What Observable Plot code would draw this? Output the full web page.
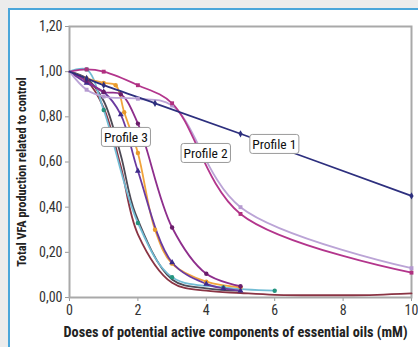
<!DOCTYPE html>
<html>
<head>
<meta charset="utf-8">
<script src="https://cdn.jsdelivr.net/npm/d3@7"></script>
<script src="https://cdn.jsdelivr.net/npm/@observablehq/plot@0.6"></script>
<style>
  html, body { margin: 0; padding: 0; width: 418px; height: 347px; overflow: hidden; background: #ececec; }
  #panel { position: absolute; left: 8px; top: 8px; width: 500px; height: 500px; background: #fff;
           border-left: 2px solid #4aa6da; border-top: 2px solid #4aa6da; }
  #chart { position: absolute; left: 0; top: 0; }
  #chart svg g[aria-label$="tick"] path { stroke: #999; }
</style>
</head>
<body>
<div id="panel"></div>
<div id="chart"></div>
<script>
// ---- data (dose in mM, VFA production relative to control) ----
const profile1Dose = [0, 0.5, 1, 2.5, 5, 10];
const profile1Vfa  = [1.00, 0.97, 0.94, 0.86, 0.725, 0.45];

const magentaDose = [0, 0.5, 1, 2, 3, 5, 10];
const magentaVfa  = [1.00, 1.01, 1.00, 0.94, 0.86, 0.37, 0.11];

const lavenderDose = [0, 0.5, 1, 2, 3, 5, 10];
const lavenderVfa  = [1.00, 0.92, 0.89, 0.88, 0.85, 0.40, 0.13];

const violetDose = [0, 0.5, 1, 1.5, 2, 3, 4, 4.5, 5];
const violetVfa  = [1.00, 0.95, 0.91, 0.81, 0.56, 0.155, 0.06, 0.04, 0.03];

const purpleDose = [0, 0.5, 1, 1.5, 2, 3, 4, 5];
const purpleVfa  = [1.00, 0.96, 0.91, 0.90, 0.77, 0.31, 0.105, 0.05];

const orangeDose = [0, 0.5, 1, 1.35, 1.6, 2, 2.5, 3, 4, 5];
const orangeVfa  = [1.00, 0.97, 0.95, 0.94, 0.82, 0.64, 0.30, 0.15, 0.07, 0.045];

const tealDose = [0, 0.5, 1, 2, 3, 4.5, 6];
const tealVfa  = [1.00, 1.01, 0.83, 0.33, 0.09, 0.045, 0.03];

const grayDose = [0, 0.5, 1, 1.5, 1.93, 3, 4, 5];
const grayVfa  = [1.00, 0.97, 0.87, 0.63, 0.37, 0.08, 0.04, 0.03];

const redDose = [0, 0.5, 1, 1.5, 2, 3, 4, 5, 6, 8, 9, 10];
const redVfa  = [1.00, 0.96, 0.84, 0.58, 0.28, 0.065, 0.03, 0.02, 0.012, 0.01, 0.012, 0.018];

const xTicks = [0, 2, 4, 6, 8, 10];
const yTicks = [0, 0.2, 0.4, 0.6, 0.8, 1.0, 1.2];

const labelText = ["Profile 1", "Profile 2", "Profile 3"];
const labelDose = [5.99, 3.98, 1.65];
const labelVfa  = [0.677, 0.637, 0.708];

// ---- build tables ----
const seriesDefs = [
  {name: "red",      dose: redDose,      vfa: redVfa,      color: "#8a3444", symbol: null},
  {name: "gray",     dose: grayDose,     vfa: grayVfa,     color: "#4c4a55", symbol: null},
  {name: "teal",     dose: tealDose,     vfa: tealVfa,     color: "#72bcd4", symbol: "circle", mark: "#25957f"},
  {name: "orange",   dose: orangeDose,   vfa: orangeVfa,   color: "#f1a43c", symbol: "circle", mark: "#e89a2c"},
  {name: "violet",   dose: violetDose,   vfa: violetVfa,   color: "#6a3aa0", symbol: "triangle", mark: "#3c2a8a"},
  {name: "purple",   dose: purpleDose,   vfa: purpleVfa,   color: "#8e2e8c", symbol: "circle", mark: "#6a1e6a"},
  {name: "lavender", dose: lavenderDose, vfa: lavenderVfa, color: "#bba4d6", symbol: "square", mark: "#b59ad0"},
  {name: "magenta",  dose: magentaDose,  vfa: magentaVfa,  color: "#b3358c", symbol: "square", mark: "#b0307f"},
  {name: "profile1", dose: profile1Dose, vfa: profile1Vfa, color: "#2d2f7e", symbol: "diamond", mark: "#2d2f7e"}
];
const rows = seriesDefs.flatMap(s => s.dose.map((d, i) => ({series: s.name, dose: d, vfa: s.vfa[i]})));
const labels = labelText.map((t, i) => ({text: t, dose: labelDose[i], vfa: labelVfa[i]}));

const font = "'Liberation Sans Narrow', 'Roboto Condensed', 'DejaVu Sans Condensed', 'Liberation Sans', Arial, sans-serif";
const fmt = d => d.toFixed(2).replace(".", ",");

const marks = [];
for (const s of seriesDefs) {
  const data = rows.filter(r => r.series === s.name);
  marks.push(Plot.line(data, {x: "dose", y: "vfa", stroke: s.color, strokeWidth: 1.8, curve: "catmull-rom"}));
}
for (const s of seriesDefs) {
  if (!s.symbol) continue;
  const data = rows.filter(r => r.series === s.name && r.dose > 0);
  marks.push(Plot.dot(data, {x: "dose", y: "vfa", symbol: () => s.symbol, fill: s.mark, r: 2.2}));
}

const chart = Plot.plot({
  width: 418,
  height: 347,
  marginLeft: 69,
  marginRight: 7,
  marginTop: 26,
  marginBottom: 50,
  style: {background: "transparent", fontFamily: font, fontSize: "14px", color: "#333"},
  symbol: {type: "identity"},
  x: {domain: [0, 10], ticks: xTicks, tickSize: 4, tickPadding: 4, label: null, line: false},
  y: {domain: [0, 1.2], ticks: yTicks, tickSize: 4, tickPadding: 3, tickFormat: fmt, label: null, line: false},
  marks: [
    Plot.frame({stroke: "#a9a9a9", strokeWidth: 2}),
    ...marks,
    Plot.text(labels, {x: "dose", y: "vfa", text: "text", fill: "#111", fontSize: 13.5, className: "proflabel"}),
    Plot.text([0], {frameAnchor: "bottom", text: () => "Doses of potential active components of essential oils (mM)",
      dy: 39, dx: -5, fontWeight: "bold", fontSize: 14.3, fill: "#222"}),
    Plot.text([0], {frameAnchor: "left", textAnchor: "middle", text: () => "Total VFA production related to control",
      rotate: -90, dx: -47, dy: 10, fontWeight: "bold", fontSize: 12.3, fill: "#222"})
  ]
});
document.getElementById("chart").appendChild(chart);

// boxes behind profile labels
d3.select(chart).selectAll("g.proflabel text").each(function() {
  const b = this.getBBox();
  d3.select(this.parentNode).insert("rect", () => this)
    .attr("x", b.x - 2.5).attr("y", b.y - 1.5)
    .attr("width", b.width + 5).attr("height", b.height + 3)
    .attr("rx", 2.5).attr("fill", "#fff").attr("stroke", "#9a9a9a").attr("stroke-width", 1)
    .attr("transform", this.getAttribute("transform"));
});
</script>
</body>
</html>
